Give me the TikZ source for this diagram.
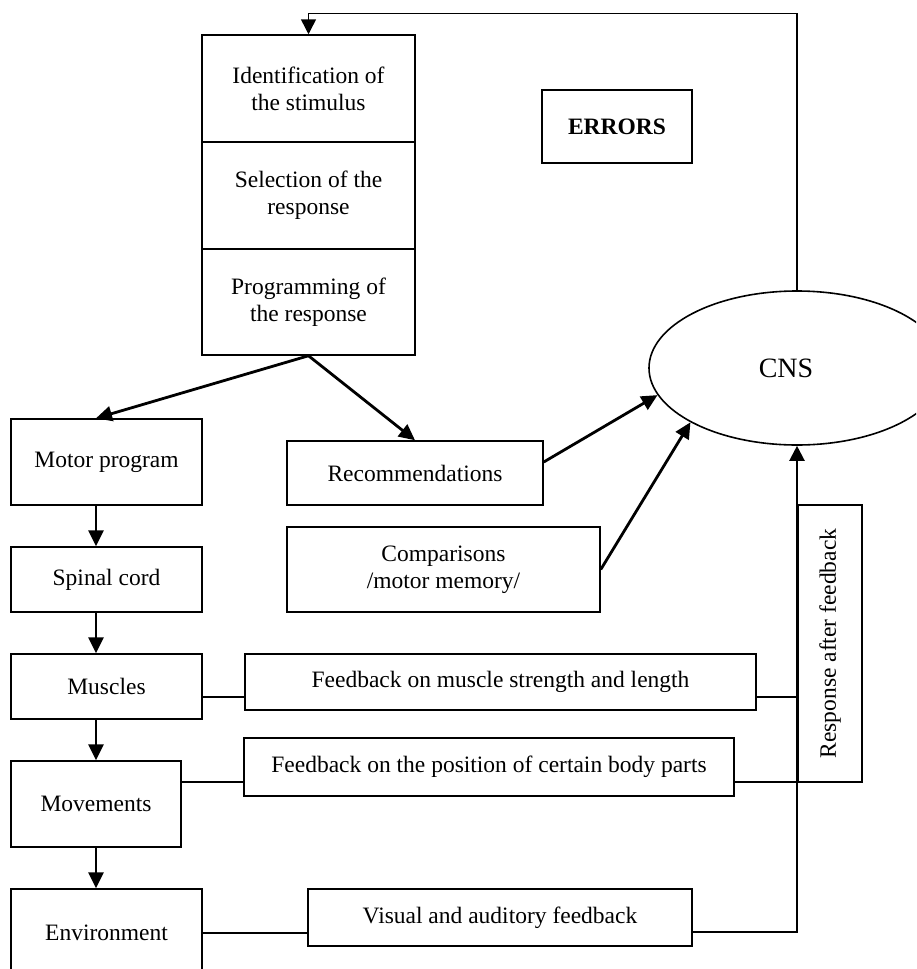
\documentclass[tikz,border=0pt]{standalone}
\usepackage{fontspec}
\setmainfont{Liberation Serif}
\usetikzlibrary{arrows.meta,shapes.geometric}
\tikzset{
    blockbox/.style={draw,line width=0.75pt,align=center,inner sep=0pt,font=\fontsize{11.75}{13.4}\selectfont},
    cnsnode/.style={ellipse,draw,line width=0.8pt,inner sep=0pt,font=\fontsize{14}{16}\selectfont},
    flowarrow/.style={-{Triangle[length=8pt,width=7.5pt]},line width=1.4pt},
    backarrow/.style={-{Triangle[length=7.5pt,width=7.5pt]},line width=0.75pt},
    railarrow/.style={-{Triangle[length=7.5pt,width=7.5pt]},line width=1.1pt},
    linkline/.style={line width=0.75pt}
}
% box from its corners: name, left, top, right, bottom, text (pixel units)
\newcommand{\PlaceBox}[6]{%
    \node[blockbox,minimum width={(#4-#2)*0.5pt},minimum height={(#5-#3)*0.5pt}] (#1) at ({(#2+#4)/2},{(#3+#5)/2}) {#6};%
}
\begin{document}
\begin{tikzpicture}[x=0.5pt,y=-0.5pt]
    \useasboundingbox (0,0) rectangle (916,969);
    \clip (0,0) rectangle (916,969);

    % processing stack
    \PlaceBox{ident}{202}{35}{415}{142}{Identification of\\the stimulus}
    \PlaceBox{select}{202}{142}{415}{249}{Selection of the\\response}
    \PlaceBox{prog}{202}{249}{415}{355}{Programming of\\the response}
    \PlaceBox{errors}{542}{90}{692}{163}{\textbf{ERRORS}}

    % central nervous system
    \node[cnsnode,minimum width=148pt,minimum height=77pt] (cns) at (797,368) {CNS\hspace*{11pt}};

    % left column
    \PlaceBox{motor}{11}{419}{202}{505}{Motor program}
    \PlaceBox{spinal}{11}{547}{202}{612}{Spinal cord}
    \PlaceBox{muscles}{11}{654}{202}{719}{Muscles}
    \PlaceBox{moves}{11}{761}{181}{847}{Movements}
    \PlaceBox{environ}{11}{889}{202}{977}{Environment}

    % middle boxes
    \PlaceBox{recs}{287}{441}{543}{505}{Recommendations}
    \PlaceBox{comp}{287}{527}{600}{612}{Comparisons\\/motor memory/}
    \PlaceBox{musfb}{245}{654}{756}{710}{Feedback on muscle strength and length}
    \PlaceBox{posfb}{244}{738}{734}{796}{Feedback on the position of certain body parts}
    \PlaceBox{visfb}{308}{889}{692}{946}{Visual and auditory feedback}

    % response box on the rail
    \node[blockbox,rotate=90,minimum width=138.5pt,minimum height=32pt] (resp) at (830,643.5) {Response after feedback};

    % arrows of the motor chain
    \coordinate (spine) at (96,0);
    \draw[flowarrow] (prog.south) -- (motor.north -| spine);
    \draw[flowarrow] (prog.south) -- (recs.north);
    \foreach \a/\b in {motor/spinal,spinal/muscles,muscles/moves,moves/environ}
        \draw[flowarrow] (\a.south -| spine) -- (\b.north -| spine);

    % into the CNS
    \draw[flowarrow] ([yshift=5.5pt]recs.east) -- (cns.191);
    \draw[flowarrow] (comp.east) -- (cns.207);

    % feedback links
    \draw[linkline] ([yshift=-5.25pt]muscles.east) -- ([yshift=-5.25pt]muscles.east -| musfb.west);
    \draw[linkline] ([yshift=11pt]moves.east) -- ([yshift=11pt]moves.east -| posfb.west);
    \draw[linkline] (environ.east) -- (environ.east -| visfb.west);
    \draw[linkline] ([yshift=-7.5pt]musfb.east) -- ([yshift=-7.5pt]musfb.east -| cns.south);
    \draw[linkline] ([yshift=-7.5pt]posfb.east) -- ([yshift=-7.5pt]posfb.east -| cns.south);
    \draw[railarrow] ([yshift=-7.25pt]visfb.east) -| (cns.south);

    % back to the stimulus
    \draw[backarrow] (cns.north) |- ([yshift=10.5pt]ident.north) -- (ident.north);
\end{tikzpicture}
\end{document}
